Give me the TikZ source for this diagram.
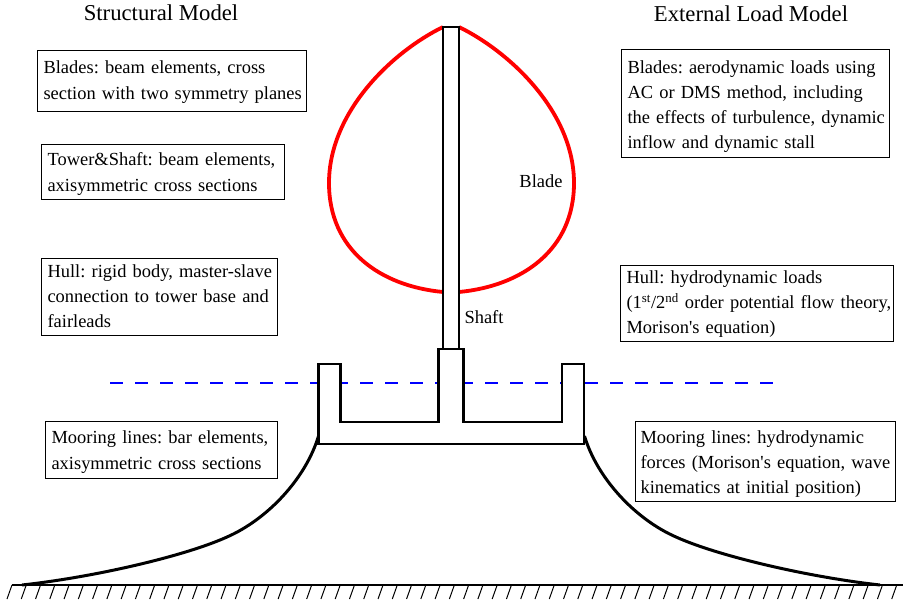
\documentclass[tikz,border=0pt]{standalone}
\usepackage{fontspec}
\setmainfont{Liberation Serif}
\frenchspacing

\begin{document}
\begin{tikzpicture}[
		x=1pt, y=-1pt,
		every node/.style={inner sep=0pt, font=\fontsize{18.45}{25.2}\selectfont},
		infobox/.style={rectangle, draw, line width=1.1pt, align=left, anchor=north west, inner xsep=6pt, inner ysep=4pt},
		title/.style={font=\fontsize{22.7}{24}\selectfont},
		body/.style={line width=2.6pt, line join=miter},
		bladeline/.style={red, line width=3.8pt},
		mooring/.style={line width=3pt}
	]
  \useasboundingbox (0,0) rectangle (903,607);
  \node (title_s) [title] at (161,13) {Structural Model};
  \node (title_l) [title] at (751,14) {External Load Model};

  \node (blades_s) [infobox, minimum width=269pt, minimum height=61pt, text width=257pt] at (37,50) {\rule{0pt}{15pt}Blades: beam elements, cross\\\mbox{section with two symmetry planes}};
  \node (tower_s) [infobox, minimum width=243pt, minimum height=55pt, text width=231pt] at (41,144) {\rule{0pt}{17pt}Tower\&Shaft: beam elements,\\axisymmetric cross sections};
  \node (hull_s) [infobox, minimum width=236pt, minimum height=77pt, text width=224pt] at (41,258) {\mbox{Hull: rigid body, master-slave}\\\mbox{connection to tower base and}\\fairleads\rule[-2pt]{0pt}{1pt}};
  \node (moor_s) [infobox, minimum width=232pt, minimum height=57pt, text width=220pt] at (45,421) {\rule{0pt}{17pt}Mooring lines: bar elements,\\axisymmetric cross sections};

  \node (blades_l) [infobox, minimum width=268pt, minimum height=108pt, text width=256pt] at (621,49) {\rule{0pt}{19pt}Blades: aerodynamic loads using\\AC or DMS method, including\\\mbox{the effects of turbulence, dynamic}\\inflow and dynamic stall};
  \node (hull_l) [infobox, minimum width=273pt, minimum height=76pt, text width=261pt] at (620,265) {\rule{0pt}{14pt}Hull: hydrodynamic loads\\\mbox{(1\textsuperscript{st}/2\textsuperscript{nd} order potential flow theory,}\\Morison\textquotesingle s equation)};
  \node (moor_l) [infobox, inner xsep=5pt, minimum width=260pt, minimum height=79pt, text width=250pt] at (635,421) {\rule{0pt}{18pt}Mooring lines: hydrodynamic\\\mbox{forces (Morison\textquotesingle s equation, wave}\\kinematics at initial position)};

  \node (blade_label) at (541,181) {Blade};
  \node (shaft_label) at (484,317) {Shaft};

  \coordinate (tl) at (443,27);
  \coordinate (tr) at (459,27);
  \coordinate (bl) at (443,292);
  \coordinate (br) at (459,292);
  \coordinate (moor_a) at (318.5,436);
  \coordinate (moor_b) at (584.5,436);
  \coordinate (anchor_a) at (22,585);
  \coordinate (anchor_b) at (880,585);

  % water line
  \draw [blue, line width=2pt, dash pattern=on 13pt off 12pt] (110,382.5) -- (775,382.5);
  % rotor
  \draw [bladeline] (tl) .. controls (392,52) and (329,112) .. (329,183) .. controls (329,250) and (380,286) .. (bl);
  \draw [bladeline] (tr) .. controls (510,52) and (574,112) .. (574,183) .. controls (574,250) and (522,286) .. (br);
  % tower and hull
  \draw [body] (tl) rectangle (459,349);
  \draw [body, fill=white] (318.5,364) -- (340.5,364) -- (340.5,422) -- (438.5,422) -- (438.5,349) -- (463.5,349) -- (463.5,422) -- (562,422) -- (562,364) -- (584,364) -- (584,444) -- (318.5,444) -- cycle;
  % mooring lines
  \draw [mooring] (moor_a) .. controls (306,478) and (268,519) .. (227,537) .. controls (185,556) and (95,577) .. (anchor_a);
  \draw [mooring] (moor_b) .. controls (597,478) and (635,519) .. (676,537) .. controls (718,556) and (808,577) .. (anchor_b);
  % sea bed
  \draw [line width=1.6pt] (12,585) -- (903,585);
  \foreach \i in {0,...,62}
    \draw [line width=1pt] (12+14.27*\i,585) -- ++(-5,14);
\end{tikzpicture}
\end{document}
